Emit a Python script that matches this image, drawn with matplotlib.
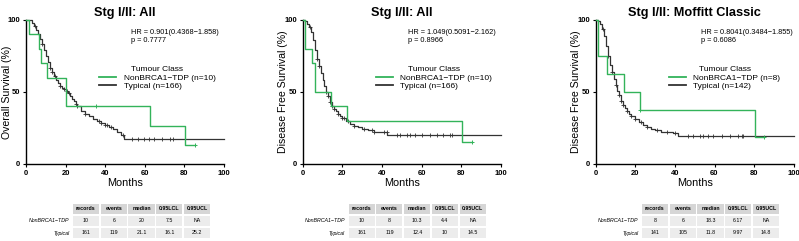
import numpy as np
import matplotlib
matplotlib.use("Agg")
import matplotlib.pyplot as plt
from matplotlib.patches import Rectangle

plt.rcParams["font.family"] = ["Liberation Sans", "DejaVu Sans"]

# -------------------------
# Data
# -------------------------

titles = ["Stg I/II: All", "Stg I/II: All", "Stg I/II: Moffitt Classic"]
ylabels = ["Overall Survival (%)", "Disease Free Survival (%)", "Disease Free Survival (%)"]
hr_texts = ["HR = 0.901(0.4368\u22121.858)\np = 0.7777",
            "HR = 1.049(0.5091\u22122.162)\np = 0.8966",
            "HR = 0.8041(0.3484\u22121.855)\np = 0.6086"]
legend_labels = [["NonBRCA1\u2212TDP (n=10)", "Typical (n=166)"],
                 ["NonBRCA1\u2212TDP (n=10)", "Typical (n=166)"],
                 ["NonBRCA1\u2212TDP (n=8)", "Typical (n=142)"]]

# NonBRCA1-TDP step curves (time of drop, level after drop)
tdp_t = [[1.5, 6.5, 7.7, 10.8, 20.2, 62.6, 80.4],
         [1.0, 4.6, 6.2, 14.4, 22.2, 80.4],
         [1.0, 5.8, 14.4, 22.2, 80.3]]
tdp_s = [[90, 80, 70, 60, 40, 26.7, 13.3],
         [80, 70, 50, 40, 30, 15],
         [75, 62.5, 50, 37.5, 18.75]]
tdp_end = [85.5, 85.5, 85.0]
tdp_cens = [[35.2, 85.5], [85.5], [22.6, 85.0]]

# Typical step curves
typ_t = [[3.2, 4, 5, 6, 7, 8, 9, 10, 11, 12, 13, 14, 15, 16, 17, 18, 19, 20, 21, 22,
          23, 24, 25, 26, 28, 30, 32, 34, 36, 38, 40, 42, 44, 46, 48, 49.5],
         [1, 2, 3, 4, 5, 6, 7, 8, 9, 10, 11, 12, 13, 14, 15, 16, 17, 18, 19, 20,
          22, 24, 26, 28, 30, 33, 36, 39, 42.5],
         [1, 2, 3, 4, 5, 6, 7, 8, 9, 10, 11, 12, 13, 14, 15, 16, 17, 18, 20, 22,
          24, 26, 28, 30, 33, 36, 39, 41.5]]
typ_s = [[98, 96, 93, 90, 87, 83, 79, 75, 71, 67, 64, 61, 58, 56, 54, 53, 52, 51, 49, 47,
          45, 43.5, 42, 40, 37, 35, 33, 31.5, 30, 28.5, 27, 25.5, 24, 22, 20, 17.4],
         [99, 97, 95, 92, 86, 79, 73, 68, 63, 58, 54, 50, 47, 43, 40, 38, 36.5, 35, 33.5, 32,
          30, 28, 26.5, 25.5, 24.5, 23.5, 22.5, 22, 20],
         [99, 97, 94, 89, 82, 75, 69, 64, 59, 55, 51, 48, 44, 41, 39, 37, 35, 33.5, 31, 29,
          27, 25.5, 24.5, 23.5, 22.5, 22, 21.5, 19.2]]
typ_cens = [[4.5, 8, 12.3, 13, 14.5, 17, 19, 20.5, 21.5, 25, 26, 30, 37, 38, 40, 41, 43,
             49.1, 53.4, 56.7, 59.6, 62.1, 64.6, 68.5, 72.7, 74.4],
            [3.5, 7, 8, 12, 13, 14, 15, 16, 18, 20, 21, 23, 26, 31, 35, 36, 41,
             42.4, 47.5, 49.1, 52.5, 54.2, 56.7, 60.1, 64.3, 67.7, 71, 74.4, 75.2],
            [3.5, 6, 8, 10, 12, 13, 14, 16, 18, 20, 23, 26, 31, 36, 40,
             46.8, 49.3, 52.7, 54.3, 56.9, 59.4, 63.6, 67.8, 72, 73.7, 74.5]]

col_names = ["records", "events", "median", "0.95LCL", "0.95UCL"]
row_names = ["NonBRCA1\u2212TDP", "Typical"]
table_vals = [[["10", "6", "20", "7.5", "NA"], ["161", "119", "21.1", "16.1", "25.2"]],
              [["10", "8", "10.3", "4.4", "NA"], ["161", "119", "12.4", "10", "14.5"]],
              [["8", "6", "18.3", "6.17", "NA"], ["141", "105", "11.8", "9.97", "14.8"]]]

green = "#33b35a"
dark = "#333333"

W, H = 799, 241
ax_left = [26, 302.7, 595.7]
tab_left = [72, 347.7, 641]


def step_value(t_list, s_list, t):
    v = 100.0
    for tt, ss in zip(t_list, s_list):
        if tt <= t:
            v = ss
    return v


def step_xy(t_list, s_list, t_end):
    xs = [0]
    ys = [100]
    for tt, ss in zip(t_list, s_list):
        xs += [tt, tt]
        ys += [ys[-1], ss]
    xs.append(t_end)
    ys.append(ys[-1])
    return xs, ys


fig = plt.figure(figsize=(W / 100, H / 100), dpi=100)

for i in range(3):
    ax = fig.add_axes([ax_left[i] / W, 1 - 164 / H, 198 / W, 144 / H])

    # typical curve
    xs, ys = step_xy(typ_t[i], typ_s[i], 100)
    ax.plot(xs, ys, color=dark, lw=0.9, label=legend_labels[i][1], clip_on=False, zorder=2)
    cy = [step_value(typ_t[i], typ_s[i], c) for c in typ_cens[i]]
    ax.plot(typ_cens[i], cy, ls="none", marker="+", ms=3.5, mew=0.6, color=dark, clip_on=False)

    # NonBRCA1-TDP curve
    xs, ys = step_xy(tdp_t[i], tdp_s[i], tdp_end[i])
    ax.plot(xs, ys, color=green, lw=1.0, label=legend_labels[i][0], clip_on=False, zorder=3)
    cy = [step_value(tdp_t[i], tdp_s[i], c) for c in tdp_cens[i]]
    ax.plot(tdp_cens[i], cy, ls="none", marker="+", ms=3.5, mew=0.7, color=green,
            clip_on=False, zorder=3)

    ax.set_xlim(0, 100)
    ax.set_ylim(0, 100)
    ax.set_xticks([0, 20, 40, 60, 80, 100])
    ax.set_yticks([0, 50, 100])
    ax.tick_params(labelsize=5.5, length=2.5, width=0.8, pad=1.5)
    for lbl in ax.get_yticklabels() + ax.get_xticklabels():
        lbl.set_fontweight("bold")
    for side in ["top", "right"]:
        ax.spines[side].set_visible(False)
    for side in ["left", "bottom"]:
        ax.spines[side].set_linewidth(1.0)

    ax.set_title(titles[i], fontsize=9.2, fontweight="bold", pad=3)
    ax.set_xlabel("Months", fontsize=7.8, labelpad=1)
    ax.set_ylabel(ylabels[i], fontsize=7.6)
    ax.yaxis.set_label_coords(-0.072, 0.5)

    ax.text(0.53, 0.94, hr_texts[i], transform=ax.transAxes, fontsize=5.3,
            va="top", ha="left", linespacing=1.25)

    h, l = ax.get_legend_handles_labels()
    leg = ax.legend(h[::-1], l[::-1], title="Tumour Class", fontsize=6,
                    title_fontsize=6, frameon=False, loc="upper left",
                    bbox_to_anchor=(0.35, 0.71), handlelength=2.0,
                    borderpad=0, labelspacing=0.1, handletextpad=0.9)
    for line in leg.get_lines():
        line.set_linewidth(1.3)

    # summary table
    tx = fig.add_axes([tab_left[i] / W, 1 - 239 / H, 139 / W, 36 / H])
    tx.set_xlim(0, 5)
    tx.set_ylim(0, 3)
    tx.axis("off")
    for c in range(5):
        tx.add_patch(Rectangle((c + 0.03, 2.06), 0.94, 0.88, color="#d6d6d6", lw=0))
        tx.text(c + 0.5, 2.5, col_names[c], ha="center", va="center",
                fontsize=3.8, fontweight="bold")
        for r in range(2):
            y0 = 1 - r
            tx.add_patch(Rectangle((c + 0.03, y0 + 0.06), 0.94, 0.88,
                                   color="#ececec", lw=0))
            tx.text(c + 0.5, y0 + 0.5, table_vals[i][r][c], ha="center", va="center",
                    fontsize=3.8)
    for r in range(2):
        tx.text(-0.1, 1 - r + 0.5, row_names[r], ha="right", va="center",
                fontsize=3.8, style="italic")

fig.savefig("out.png", dpi=100)
